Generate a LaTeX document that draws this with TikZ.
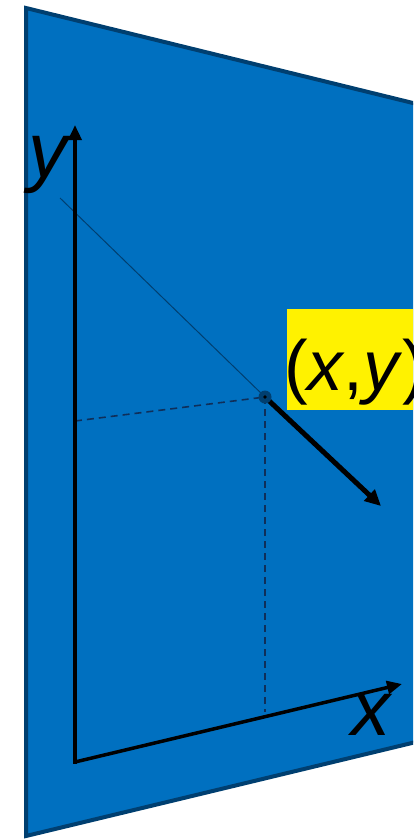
\documentclass[tikz,border=0pt]{standalone}
\usepackage{fontspec}
\setmainfont{Liberation Sans}
\usetikzlibrary{arrows.meta}
\definecolor{planefill}{HTML}{0070C0}
\definecolor{planeedge}{HTML}{003F70}
\definecolor{darkline}{HTML}{0F2F5A}
\tikzset{
  axis/.style={line width=3.5pt,-{Triangle[length=15pt,width=13pt]}},
  vec/.style={line width=5pt,-{Triangle[length=16pt,width=15pt]}},
  guide/.style={draw=darkline,line width=1.6pt,dash pattern=on 7pt off 5pt},
  proj/.style={draw=planeedge,line width=1pt},
  lbl/.style={inner sep=0pt,font=\fontsize{78}{80}\selectfont},
  ptlbl/.style={inner sep=0pt,font=\fontsize{71}{74}\selectfont}
}
\begin{document}
\begin{tikzpicture}[x=1pt,y=-1pt]
\useasboundingbox (0,0) rectangle (413,839);
\clip (0,0) rectangle (413,839);
% plane
\fill[planefill,draw=planeedge,line width=4pt,line join=miter]
  (26,8) -- (470,117) -- (470,729) -- (26,836) -- cycle;
% coordinates
\coordinate (O) at (75,762);
\coordinate (ytip) at (75,125);
\coordinate (xtip) at (402,684);
\coordinate (P) at (265,397);
\coordinate (Q) at (381,506);
\coordinate (S) at (60,198);
\coordinate (Yi) at (75,421);
\coordinate (Xi) at (265,712);
% label box
\fill[yellow] (287,309) rectangle (440,410);
\node[ptlbl,anchor=base west] (pt) at (284,390) {(\textit{x},\textit{y})};
% projection line
\draw[proj] (S) -- (P);
% guides
\draw[guide] (Yi) -- (P);
\draw[guide] (P) -- (Xi);
% axes
\draw[axis] (O) -- (ytip);
\draw[axis] (O) -- (xtip);
\draw[line width=3.5pt,line cap=rect] (O) -- ++(0,-5);
% vector
\draw[vec] (P) -- (Q);
% point
\node[circle,fill=planeedge,minimum size=13pt,inner sep=0pt] (pdot) at (P) {};
\fill[black] (P) circle (1.8pt);
% axis labels
\node[lbl,anchor=base] (ylab) at (50,177) {\textit{y}};
\node[lbl,anchor=base] (xlab) at (372,735) {\textit{x}};
\end{tikzpicture}
\end{document}
